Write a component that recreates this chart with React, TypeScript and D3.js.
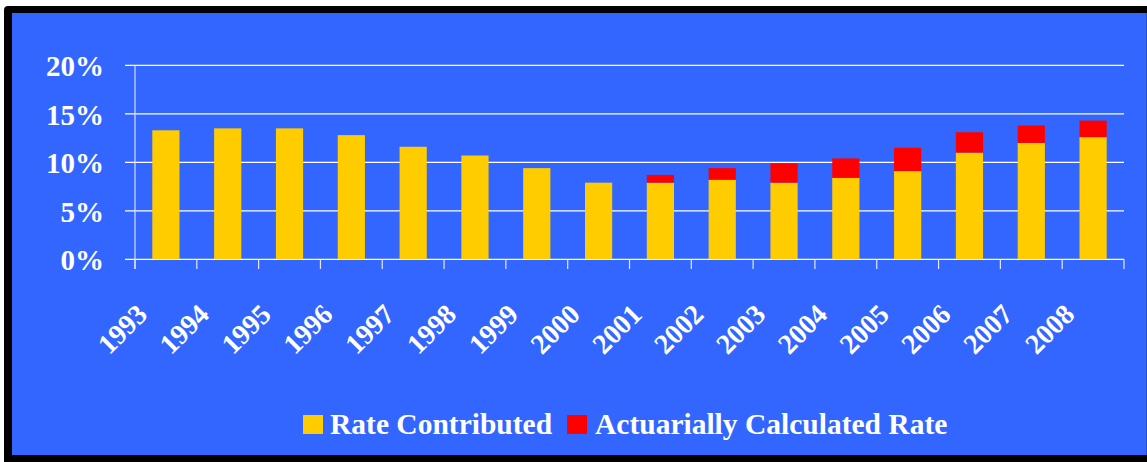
import React from "react";
import * as d3 from "d3";

const years = ["1993", "1994", "1995", "1996", "1997", "1998", "1999", "2000", "2001", "2002", "2003", "2004", "2005", "2006", "2007", "2008"];
const rateContributed = [13.3, 13.5, 13.5, 12.8, 11.6, 10.7, 9.4, 7.9, 7.9, 8.2, 7.9, 8.4, 9.1, 11.0, 12.0, 12.6];
const actuarialExtra = [0, 0, 0, 0, 0, 0, 0, 0, 0.8, 1.2, 2.0, 2.0, 2.4, 2.1, 1.8, 1.7];
const yTicks = [0, 5, 10, 15, 20];
const seriesNames = ["Rate Contributed", "Actuarially Calculated Rate"];
const seriesColors = ["#FFCC00", "#FF0000"];

const W = 1147;
const H = 462;
const FONT = "'Liberation Serif', 'Times New Roman', serif";

export default function App() {
  const x = d3.scaleBand<string>().domain(years).range([135, 1124]).paddingInner(0.56).paddingOuter(0.28);
  const y = d3.scaleLinear().domain([0, 20]).range([259.3, 65.3]);
  const step = x.step();

  const rows = years.map((yr, i) => ({ year: yr, contributed: rateContributed[i], extra: actuarialExtra[i] }));
  const stacked = d3.stack<any>().keys(["contributed", "extra"])(rows);

  return (
    <svg width={W} height={H} style={{ position: "absolute", left: 0, top: 0, background: "#fff" }}>
      {/* frame */}
      <rect x={4} y={6} width={1160} height={470} rx={4} fill="#000" />
      <rect x={12} y={13} width={1134} height={442} fill="#3366FF" />
      <line x1={1146.5} x2={1146.5} y1={13} y2={455} stroke="#2a4fc0" strokeWidth={1} />

      {/* grid */}
      {yTicks.map((t) => (
        <g key={t}>
          <line x1={125} x2={1124} y1={y(t)} y2={y(t)} stroke="#ffffff" strokeWidth={1.2} />
          <text x={104} y={y(t) + 11} textAnchor="end" fill="#fff" fontFamily={FONT} fontWeight="bold" fontSize={29}>
            {t}%
          </text>
        </g>
      ))}

      {/* y axis */}
      <line x1={135} x2={135} y1={y(20)} y2={269} stroke="#d6defc" strokeWidth={1.2} />

      {/* x ticks */}
      {d3.range(years.length + 1).map((i) => (
        <line key={i} x1={135 + i * step} x2={135 + i * step} y1={259.3} y2={269} stroke="#e4e9ff" strokeWidth={1.2} />
      ))}

      {/* bars */}
      {stacked.map((s, si) => (
        <g key={si} fill={seriesColors[si]}>
          {s.map((d, i) =>
            d[1] - d[0] > 0 ? (
              <rect key={i} x={x(years[i])} width={x.bandwidth()} y={y(d[1])} height={y(d[0]) - y(d[1])} />
            ) : null
          )}
        </g>
      ))}

      {/* x labels */}
      {years.map((yr) => {
        const cx = (x(yr) as number) + x.bandwidth() / 2 - 17;
        const cy = 316;
        return (
          <text key={yr} transform={`translate(${cx},${cy}) rotate(-45)`} textAnchor="end" fill="#fff" fontFamily={FONT} fontWeight="bold" fontSize={28}>
            {yr}
          </text>
        );
      })}

      {/* legend */}
      <rect x={303} y={415} width={20} height={19} fill={seriesColors[0]} />
      <text x={330} y={434} fill="#fff" fontFamily={FONT} fontWeight="bold" fontSize={29.5}>
        {seriesNames[0]}
      </text>
      <rect x={567} y={415} width={20} height={19} fill={seriesColors[1]} />
      <text x={595} y={434} fill="#fff" fontFamily={FONT} fontWeight="bold" fontSize={29.5}>
        {seriesNames[1]}
      </text>
    </svg>
  );
}
